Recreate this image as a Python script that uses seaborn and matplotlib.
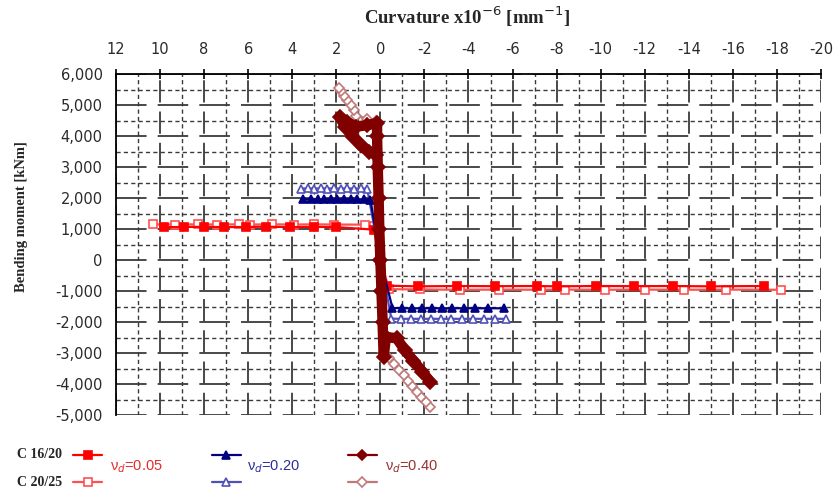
import numpy as np
import pandas as pd
import matplotlib
matplotlib.use("Agg")
import matplotlib.pyplot as plt
from matplotlib.lines import Line2D
from matplotlib.ticker import FuncFormatter, MultipleLocator
import seaborn as sns

# ---- data: curvature (x10^-6 1/mm) and bending moment (kNm) ----
# C 16/20, nu_d = 0.05
red16_c = [-17.4, -15.0, -13.3, -11.5, -9.8, -8.0, -7.1, -5.2, -3.5, -1.7, -0.3,
           0.0, 0.3, 2.0, 3.0, 4.1, 5.2, 6.1, 7.1, 8.0, 8.9, 9.8]
red16_m = [-840, -850, -840, -845, -840, -850, -840, -845, -840, -850, -830,
           0, 980, 1060, 1070, 1060, 1075, 1065, 1060, 1070, 1065, 1060]
# C 20/25, nu_d = 0.05
red20_c = [-18.2, -15.7, -13.8, -12.0, -10.2, -8.4, -7.3, -5.4, -3.6, -1.8, -0.4,
           0.0, 0.3, 0.7, 2.1, 3.0, 3.9, 4.9, 5.9, 6.4, 7.4, 8.3, 9.3, 10.3]
red20_m = [-960, -955, -960, -955, -960, -955, -960, -955, -960, -950, -940,
           0, 1100, 1140, 1145, 1150, 1145, 1150, 1145, 1150, 1145, 1150, 1145, 1150]
# C 16/20, nu_d = 0.20
blue16_c = [-5.6, -4.9, -4.3, -3.8, -3.25, -2.8, -2.35, -1.9, -1.45, -1.0, -0.55,
            0.0, 0.45, 0.75, 1.05, 1.35, 1.65, 1.95, 2.25, 2.55, 2.85, 3.15, 3.5]
blue16_m = [-1560, -1555, -1560, -1555, -1560, -1555, -1560, -1555, -1560, -1555, -1550,
            0, 1950, 1960, 1955, 1960, 1955, 1960, 1955, 1960, 1955, 1960, 1955]
# C 20/25, nu_d = 0.20
blue20_c = [-5.7, -5.2, -4.7, -4.2, -3.7, -3.2, -2.75, -2.3, -1.85, -1.4, -0.95, -0.5,
            0.0, 0.6, 0.9, 1.2, 1.5, 1.8, 2.1, 2.4, 2.7, 3.0, 3.3, 3.6]
blue20_m = [-1900, -1895, -1900, -1895, -1900, -1895, -1900, -1895, -1900, -1895, -1900, -1890,
            0, 2300, 2310, 2305, 2310, 2305, 2310, 2305, 2310, 2305, 2310, 2305]
# C 16/20, nu_d = 0.40
dred16_c = [-2.25, -1.9, -1.5, -1.1, -0.75, -0.25, -0.15, -0.1, -0.05, 0.0, 0.05, 0.08,
            0.12, 0.15, 0.15, 0.6, 1.1, 1.5, 1.85, 1.6, 1.25, 0.9, 0.5, 0.2]
dred16_m = [-3920, -3600, -3250, -2900, -2530, -2480, -3120, -2000, -1000, 0, 1000, 2000,
            3000, 4000, 4420, 4350, 4300, 4450, 4620, 4300, 3980, 3700, 3500, 3400]
# C 20/25, nu_d = 0.40
dred20_c = [-2.25, -2.05, -1.85, -1.65, -1.45, -1.25, -1.05, -0.85, -0.6, -0.4, -0.1,
            0.0, 0.1, 0.2, 0.6, 1.1, 1.2, 1.35, 1.5, 1.65, 1.8, 1.9]
dred20_m = [-4750, -4580, -4420, -4250, -4080, -3900, -3720, -3550, -3350, -3170, -3000,
            0, 3000, 4500, 4560, 4650, 4850, 5000, 5150, 5300, 5450, 5560]

x_ticks = list(range(12, -21, -2))
y_ticks = list(range(-5000, 6001, 1000))

RED, RED_L = "#ff0000", "#ff5050"
BLUE, BLUE_L = "#000080", "#5050b8"
DRED, DRED_L = "#800000", "#c07878"

sns.set_theme(style="white")
plt.rcParams["font.family"] = ["DejaVu Sans"]
plt.rcParams["lines.scale_dashes"] = False

fig = plt.figure(figsize=(8.37, 4.93), dpi=100)
ax = fig.add_axes([116 / 837, 1 - 415 / 493, (821 - 116) / 837, (415 - 74) / 493])


def draw(c, m, color, marker, ms, lw, face, z):
    df = pd.DataFrame({"curv": c, "moment": m})
    sns.lineplot(data=df, x="curv", y="moment", sort=False, estimator=None, ax=ax,
                 color=color, lw=lw, marker=marker, markersize=ms,
                 markerfacecolor=face, markeredgecolor=color, markeredgewidth=1.2,
                 zorder=z, legend=False)


draw(red20_c, red20_m, RED_L, "s", 5.5, 1.6, "white", 3)
draw(red16_c, red16_m, RED, "s", 5.5, 1.6, RED, 3.1)
draw(blue20_c, blue20_m, BLUE_L, "^", 6, 1.6, "white", 3.2)
draw(blue16_c, blue16_m, BLUE, "^", 6, 1.6, BLUE, 3.3)
draw(dred20_c, dred20_m, DRED_L, "D", 5, 1.8, "white", 3.4)
draw(dred16_c, dred16_m, DRED, "D", 7, 7.5, DRED, 3.5)

ax.set_xlim(12, -20)
ax.set_ylim(-5000, 6000)
ax.xaxis.tick_top()
ax.set_xticks(x_ticks)
ax.set_yticks(y_ticks)
ax.xaxis.set_minor_locator(MultipleLocator(1))
ax.yaxis.set_minor_locator(MultipleLocator(500))
ax.yaxis.set_major_formatter(FuncFormatter(lambda v, p: f"{int(v):,}"))
ax.xaxis.set_major_formatter(FuncFormatter(lambda v, p: f"{int(v)}"))
ax.set_xlabel("")
ax.set_ylabel("")

ax.tick_params(axis="both", which="major", direction="inout", color="black",
               labelsize=10.5, labelcolor="#2a2a2a", width=1.2)
ax.tick_params(axis="x", which="major", length=7, pad=9, top=True, bottom=False)
ax.tick_params(axis="y", which="major", length=9, pad=5)
ax.tick_params(which="minor", length=0)

grid_col = "#3a3a3a"
ax.grid(which="major", axis="y", color=grid_col, lw=1.3, linestyle=(0, (22, 8)))
ax.grid(which="major", axis="x", color=grid_col, lw=1.3, linestyle=(0, (16, 6.5)))
ax.grid(which="minor", axis="both", color=grid_col, lw=1.0, linestyle=(0, (3, 2.3)))
ax.set_axisbelow(True)

for side in ("right", "bottom"):
    ax.spines[side].set_visible(False)
for side in ("left", "top"):
    ax.spines[side].set_color("black")
    ax.spines[side].set_linewidth(1.3)

serif = ["Liberation Serif", "DejaVu Serif"]
fig.text(467 / 837, 1 - 17 / 493, "Curvature x10$^{-6}$ [mm$^{-1}$]",
         family=serif, weight="bold", fontsize=13.5, ha="center", va="center")
fig.text(22 / 837, 1 - 217 / 493, "Bending moment [kNm]", family=serif,
         weight="bold", fontsize=10.5, rotation=90, ha="center", va="center")

# legend block under the chart
fig.text(17 / 837, 1 - 455 / 493, "C 16/20", family=serif, weight="bold",
         fontsize=10, ha="left", va="center")
fig.text(17 / 837, 1 - 482 / 493, "C 20/25", family=serif, weight="bold",
         fontsize=10, ha="left", va="center")

legend_items = [
    (73, RED, RED_L, "s", "ν$_{d}$=0.05", 110, "#e52b2b"),
    (212, BLUE, BLUE_L, "^", "ν$_{d}$=0.20", 247, "#2d2d9a"),
    (348, DRED, DRED_L, "D", "ν$_{d}$=0.40", 385, "#963232"),
]
for x0, col, col_l, mk, lab, tx, tcol in legend_items:
    for yy, c, face in ((455, col, col), (482, col_l, "white")):
        yf = 1 - yy / 493
        fig.add_artist(Line2D([x0 / 837, (x0 + 29) / 837], [yf, yf], color=c, lw=1.6))
        fig.add_artist(Line2D([(x0 + 14.5) / 837], [yf], color=c, marker=mk,
                              markersize=6 if mk != "D" else 5, markerfacecolor=face,
                              markeredgecolor=c, markeredgewidth=1.2))
    fig.text(tx / 837, 1 - 467 / 493, lab, color=tcol, fontsize=10.5,
             family=["Liberation Sans", "DejaVu Sans"], ha="left", va="center")

fig.savefig("out.png", dpi=100, facecolor="white")
